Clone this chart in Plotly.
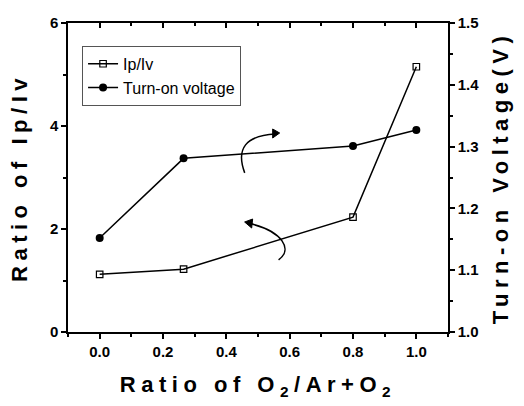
import plotly.graph_objects as go

ratio_x = [0.0, 0.265, 0.8, 1.0]
ip_iv = [1.12, 1.22, 2.23, 5.15]
turn_on_v = [1.152, 1.281, 1.301, 1.327]

FONT = "Liberation Sans, Arial, sans-serif"
SP = "letter-spacing:5.5px"

fig = go.Figure()
fig.add_trace(go.Scatter(
    x=ratio_x, y=ip_iv, name="Ip/Iv", mode="lines+markers",
    line=dict(color="black", width=1.5),
    marker=dict(symbol="square-open", size=6.5, color="black", line=dict(width=1.2)),
    xaxis="x", yaxis="y"))
fig.add_trace(go.Scatter(
    x=ratio_x, y=turn_on_v, name="Turn-on voltage", mode="lines+markers",
    line=dict(color="black", width=1.5),
    marker=dict(symbol="circle", size=8, color="black"),
    xaxis="x", yaxis="y2"))
# invisible trace to carry the top mirror axis
fig.add_trace(go.Scatter(x=[0.0], y=[0.0], xaxis="x2", yaxis="y", mode="markers",
                         marker=dict(opacity=0), showlegend=False, hoverinfo="skip"))

tickfont = dict(family=FONT, size=15, color="black", weight="bold")
titlefont = dict(family=FONT, size=22, color="black", weight="bold")
common = dict(showline=True, linecolor="black", linewidth=1.5, showgrid=False, zeroline=False,
              tickwidth=1.5, tickcolor="black", ticklen=5)
MT = dict(ticklen=3, tickwidth=1.5, tickcolor="black")

fig.update_layout(
    width=524, height=406,
    margin=dict(l=68, r=76, t=23, b=74),
    paper_bgcolor="white", plot_bgcolor="white",
    showlegend=True,
    legend=dict(x=0.037, y=0.926, xanchor="left", yanchor="top",
                bordercolor="#555", borderwidth=1, bgcolor="white",
                font=dict(family=FONT, size=16, color="black"),
                itemwidth=30, tracegroupgap=2),
    xaxis=dict(range=[-0.1, 1.1], tickmode="linear", tick0=0, dtick=0.2, tickformat=".1f",
               ticks="outside",
               minor=dict(tick0=0, dtick=0.1, ticks="outside", **MT),
               tickfont=tickfont,
               title=dict(text=f'<span style="{SP}">Ratio of O<sub>2</sub>/Ar+O<sub>2</sub></span>',
                          font=titlefont, standoff=18), **common),
    xaxis2=dict(range=[-0.1, 1.1], overlaying="x", side="top", anchor="y",
                tickmode="linear", tick0=0, dtick=0.2, showticklabels=False,
                ticks="inside",
                minor=dict(tick0=0, dtick=0.1, ticks="inside", **MT),
                **common),
    yaxis=dict(range=[0, 6], tickmode="linear", tick0=0, dtick=2,
               ticks="outside",
               minor=dict(tick0=0, dtick=1, ticks="outside", **MT),
               tickfont=tickfont,
               title=dict(text=f'<span style="{SP}">Ratio of Ip/Iv</span>', font=titlefont, standoff=16),
               **common),
    yaxis2=dict(range=[1.0, 1.5], tickmode="linear", tick0=1.0, dtick=0.1, tickformat=".1f",
                overlaying="y", side="right", anchor="x",
                ticks="outside",
                minor=dict(tick0=1.0, dtick=0.05, ticks="outside", **MT),
                tickfont=tickfont,
                title=dict(text=f'<span style="{SP}">Turn-on Voltage(V)</span>', font=titlefont, standoff=14),
                **common),
)

# curved arrows (in data coordinates of the left axis)
fig.add_shape(type="path", xref="x", yref="y",
              path="M 0.458,3.09 Q 0.415,3.80 0.555,3.845",
              line=dict(color="black", width=1.5))
fig.add_shape(type="path", xref="x", yref="y",
              path="M 0.5684,3.864 L 0.5463,3.942 L 0.5463,3.767 Z",
              line=dict(color="black", width=1), fillcolor="black")
fig.add_shape(type="path", xref="x", yref="y",
              path="M 0.565,1.40 C 0.61,1.60 0.58,1.95 0.472,2.11",
              line=dict(color="black", width=1.5))
fig.add_shape(type="path", xref="x", yref="y",
              path="M 0.4578,2.136 L 0.4831,2.194 L 0.480,2.019 Z",
              line=dict(color="black", width=1), fillcolor="black")

fig.write_html("out.html")
